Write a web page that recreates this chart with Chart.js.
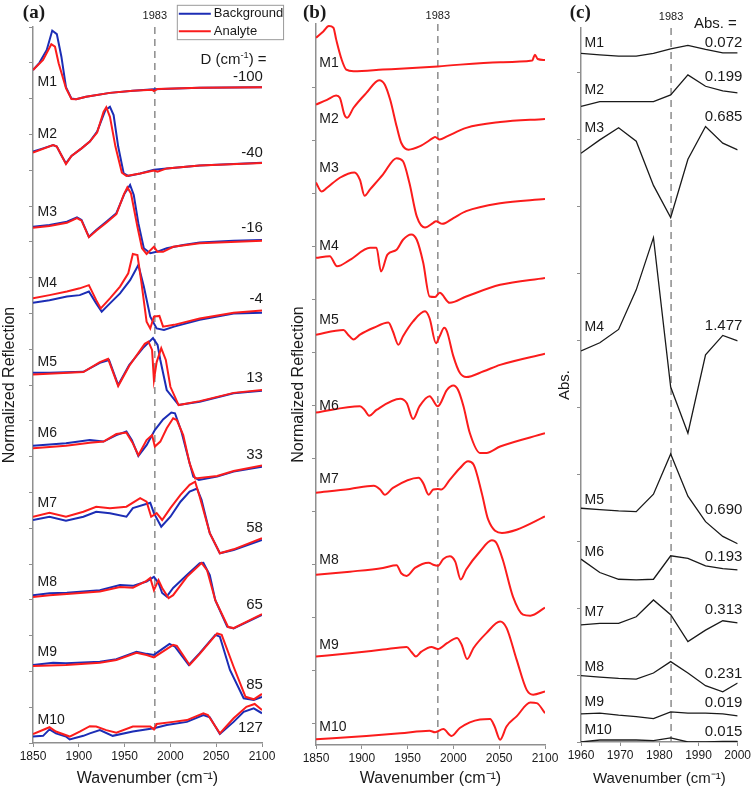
<!DOCTYPE html>
<html>
<head>
<meta charset="utf-8">
<script src="https://cdn.jsdelivr.net/npm/chart.js@4.4.1/dist/chart.umd.min.js"></script>
<style>
  body { margin: 0; background: #fff; }
  #wrap { position: relative; width: 753px; height: 792px; overflow: hidden; }
  canvas { position: absolute; top: 0; }
</style>
</head>
<body>
<div id="wrap">
  <canvas id="chartA" width="300" height="792" style="left:0px"></canvas>
  <canvas id="chartB" width="286" height="792" style="left:289px"></canvas>
  <canvas id="chartC" width="197" height="792" style="left:556px"></canvas>
</div>
<script>
// ---- panel (a): [wavenumber, normalized reflection + offset] ----
var aM1Bg = [[1850,18.80],[1857,19.00],[1865,19.36],[1871,19.90],[1876,19.80],[1881,19.17],[1886,18.32],[1892,18.00],[1897,17.98],[1908,18.05],[1934,18.16],[1959,18.22],[1982,18.26],[2032,18.30],[2100,18.32]];
var aM1An = [[1850,18.80],[1861,19.08],[1870,19.52],[1874,19.45],[1878,18.99],[1886,18.29],[1892,17.99],[1897,17.98],[1908,18.05],[1934,18.16],[1959,18.22],[1980,18.25],[1982,18.21],[1986,18.27],[2032,18.30],[2100,18.32]];
var aM2Bg = [[1850,16.52],[1861,16.61],[1872,16.70],[1876,16.66],[1881,16.42],[1886,16.19],[1892,16.40],[1903,16.61],[1912,16.80],[1920,17.08],[1929,17.68],[1934,17.77],[1938,17.54],[1943,16.66],[1949,15.91],[1954,15.84],[1967,15.91],[1982,16.01],[1996,16.05],[2032,16.13],[2100,16.21]];
var aM2An = [[1850,16.49],[1872,16.70],[1876,16.66],[1881,16.42],[1886,16.17],[1892,16.40],[1903,16.61],[1912,16.80],[1920,17.05],[1927,17.63],[1930,17.76],[1934,17.49],[1940,16.66],[1947,15.93],[1952,15.84],[1967,15.91],[1982,15.99],[1986,15.96],[1996,16.05],[2032,16.13],[2100,16.20]];
var aM3Bg = [[1850,14.42],[1868,14.47],[1887,14.56],[1898,14.68],[1903,14.61],[1911,14.14],[1919,14.33],[1930,14.56],[1941,14.80],[1950,15.35],[1956,15.59],[1960,15.31],[1965,14.52],[1971,13.82],[1978,13.68],[1985,13.72],[1996,13.82],[2014,13.91],[2032,13.98],[2069,14.03],[2100,14.05]];
var aM3An = [[1850,14.39],[1868,14.44],[1887,14.53],[1898,14.66],[1903,14.59],[1911,14.13],[1919,14.31],[1930,14.53],[1941,14.77],[1949,15.31],[1953,15.52],[1957,15.35],[1964,14.42],[1969,13.82],[1974,13.66],[1982,13.86],[1986,13.72],[1992,13.72],[2003,13.86],[2032,13.96],[2100,14.03]];
var aM4Bg = [[1850,12.30],[1868,12.37],[1887,12.47],[1901,12.51],[1911,12.61],[1919,12.28],[1925,12.05],[1934,12.28],[1945,12.56],[1956,12.93],[1965,13.35],[1971,12.75],[1978,11.91],[1985,11.58],[1993,11.54],[2004,11.63],[2032,11.82],[2069,12.00],[2100,12.02]];
var aM4An = [[1850,12.42],[1868,12.51],[1887,12.61],[1901,12.70],[1911,12.79],[1919,12.37],[1924,12.14],[1934,12.42],[1945,12.75],[1954,13.12],[1959,13.66],[1964,13.63],[1968,12.93],[1974,11.77],[1978,11.58],[1982,11.91],[1988,11.93],[1992,11.63],[2004,11.68],[2032,11.86],[2069,12.02],[2100,12.08]];
var aM5Bg = [[1850,10.34],[1868,10.34],[1905,10.37],[1923,10.62],[1933,10.70],[1943,10.00],[1955,10.56],[1970,11.03],[1981,11.31],[1986,11.12],[1989,10.70],[1996,9.86],[2009,9.44],[2032,9.53],[2069,9.77],[2100,9.84]];
var aM5An = [[1850,10.29],[1905,10.36],[1923,10.64],[1932,10.73],[1943,9.97],[1955,10.53],[1972,11.15],[1976,11.21],[1980,10.98],[1982,10.14],[1985,10.64],[1990,11.03],[1995,10.70],[2000,9.95],[2009,9.44],[2032,9.55],[2069,9.78],[2100,9.86]];
var aM6Bg = [[1850,8.30],[1886,8.37],[1912,8.46],[1927,8.42],[1941,8.60],[1952,8.70],[1958,8.46],[1965,8.02],[1974,8.32],[1983,8.74],[1992,9.04],[2001,9.23],[2005,9.21],[2012,8.70],[2020,7.91],[2025,7.44],[2031,7.35],[2051,7.44],[2069,7.58],[2100,7.72]];
var aM6An = [[1850,8.23],[1886,8.30],[1912,8.39],[1927,8.42],[1941,8.63],[1952,8.67],[1959,8.37],[1965,8.04],[1974,8.46],[1980,8.60],[1983,8.28],[1989,8.42],[1996,8.79],[2003,9.07],[2007,9.02],[2014,8.60],[2021,7.81],[2027,7.39],[2051,7.46],[2069,7.60],[2100,7.75]];
var aM7Bg = [[1850,6.23],[1868,6.32],[1886,6.21],[1905,6.32],[1919,6.46],[1934,6.42],[1952,6.32],[1959,6.56],[1978,6.71],[1982,6.42],[1990,6.04],[2000,6.32],[2011,6.74],[2021,7.02],[2029,7.11],[2034,6.79],[2043,5.86],[2054,5.30],[2069,5.39],[2100,5.67]];
var aM7An = [[1850,6.32],[1868,6.43],[1886,6.32],[1905,6.46],[1919,6.60],[1934,6.56],[1952,6.60],[1967,6.84],[1974,6.74],[1979,6.32],[1985,6.42],[1991,6.23],[2000,6.56],[2011,6.93],[2021,7.21],[2027,7.30],[2032,6.88],[2043,5.86],[2054,5.30],[2069,5.41],[2100,5.72]];
var aM8Bg = [[1850,4.13],[1868,4.18],[1887,4.20],[1923,4.27],[1945,4.41],[1959,4.39],[1974,4.51],[1982,4.64],[1987,4.47],[1991,4.19],[1996,4.09],[2003,4.33],[2018,4.69],[2032,5.02],[2036,5.03],[2043,4.69],[2049,3.99],[2062,3.25],[2069,3.20],[2100,3.58]];
var aM8An = [[1850,4.08],[1868,4.13],[1887,4.16],[1923,4.23],[1945,4.36],[1959,4.34],[1974,4.53],[1978,4.61],[1982,4.27],[1987,4.55],[1991,4.33],[1998,4.05],[2003,4.13],[2018,4.64],[2034,5.03],[2040,4.83],[2049,3.99],[2063,3.24],[2069,3.21],[2100,3.60]];
var aM9Bg = [[1850,2.18],[1872,2.24],[1886,2.23],[1923,2.27],[1941,2.34],[1963,2.55],[1974,2.49],[1982,2.46],[1999,2.77],[2005,2.69],[2020,2.18],[2032,2.51],[2049,3.02],[2054,2.97],[2065,2.04],[2080,1.25],[2091,1.20],[2100,1.29]];
var aM9An = [[1850,2.15],[1886,2.18],[1923,2.24],[1941,2.32],[1963,2.52],[1974,2.46],[1982,2.39],[2003,2.74],[2007,2.71],[2021,2.18],[2032,2.49],[2051,3.06],[2056,3.02],[2069,2.13],[2082,1.29],[2091,1.22],[2100,1.37]];
var aM10Bg = [[1850,0.18],[1861,0.20],[1868,0.38],[1875,0.27],[1886,0.18],[1890,0.10],[1905,0.20],[1912,0.27],[1923,0.36],[1937,0.20],[1959,0.32],[1982,0.41],[1996,0.50],[2018,0.59],[2036,0.78],[2043,0.72],[2054,0.25],[2069,0.59],[2080,0.87],[2091,0.97],[2100,0.83]];
var aM10An = [[1850,0.25],[1868,0.44],[1875,0.32],[1890,0.18],[1901,0.32],[1912,0.47],[1919,0.46],[1930,0.36],[1941,0.29],[1959,0.46],[1978,0.46],[1982,0.38],[1985,0.53],[2003,0.59],[2018,0.64],[2036,0.83],[2041,0.78],[2054,0.27],[2069,0.69],[2083,1.01],[2092,1.09],[2100,0.92]];

// ---- panel (b): analyte only ----
var bM1 = [[1850,12.94],[1858,13.06],[1864,13.16],[1869,13.13],[1872,12.91],[1878,12.53],[1883,12.34],[1891,12.31],[1923,12.34],[1983,12.40],[2051,12.48],[2086,12.51],[2089,12.62],[2092,12.54],[2100,12.52]];
var bM2 = [[1850,11.68],[1862,11.77],[1872,11.85],[1876,11.81],[1881,11.49],[1884,11.43],[1891,11.62],[1905,11.90],[1919,12.14],[1925,12.06],[1931,11.77],[1938,11.27],[1943,10.96],[1951,10.83],[1963,10.89],[1978,11.05],[1980,11.07],[1985,11.02],[1993,11.08],[2014,11.24],[2051,11.35],[2100,11.41]];
var bM3 = [[1850,10.21],[1856,10.04],[1862,10.11],[1876,10.30],[1892,10.40],[1898,10.26],[1903,9.96],[1909,10.08],[1923,10.36],[1938,10.67],[1945,10.61],[1952,10.20],[1960,9.57],[1969,9.36],[1978,9.45],[1981,9.48],[1988,9.43],[2000,9.54],[2014,9.67],[2051,9.82],[2100,9.90]];
var bM4 = [[1850,8.79],[1865,8.82],[1873,8.63],[1887,8.75],[1909,8.98],[1916,8.98],[1921,8.53],[1928,8.85],[1938,8.94],[1945,9.13],[1954,9.23],[1960,9.13],[1967,8.70],[1974,8.06],[1980,8.05],[1985,8.13],[1996,7.94],[2014,8.06],[2051,8.28],[2100,8.41]];
var bM5 = [[1850,7.34],[1880,7.43],[1885,7.34],[1891,7.25],[1898,7.34],[1913,7.47],[1929,7.57],[1934,7.40],[1940,7.15],[1945,7.31],[1956,7.59],[1969,7.78],[1974,7.65],[1981,7.18],[1985,7.31],[1990,7.47],[1993,7.40],[2000,6.93],[2007,6.62],[2014,6.54],[2033,6.65],[2051,6.77],[2100,6.98]];
var bM6 = [[1850,5.87],[1898,5.99],[1903,5.92],[1908,5.81],[1916,5.92],[1942,6.13],[1949,6.05],[1956,5.75],[1963,5.99],[1974,6.18],[1983,5.99],[1993,6.30],[2000,6.38],[2005,6.30],[2011,5.99],[2018,5.48],[2029,5.11],[2036,5.11],[2051,5.23],[2100,5.48]];
var bM7 = [[1850,4.36],[1887,4.43],[1913,4.49],[1920,4.42],[1925,4.32],[1934,4.45],[1962,4.64],[1967,4.54],[1973,4.32],[1978,4.42],[1983,4.43],[1987,4.42],[1996,4.60],[2007,4.82],[2016,4.95],[2022,4.89],[2031,4.35],[2038,3.85],[2053,3.60],[2069,3.66],[2100,3.91]];
var bM8 = [[1850,2.81],[1887,2.87],[1923,2.94],[1938,2.99],[1943,2.84],[1949,2.79],[1958,2.94],[1973,3.04],[1978,3.00],[1983,2.98],[1989,3.11],[1996,3.16],[2002,3.06],[2008,2.72],[2014,2.91],[2029,3.25],[2042,3.46],[2047,3.41],[2054,3.09],[2065,2.40],[2076,2.06],[2084,2.04],[2100,2.19]];
var bM9 = [[1850,1.27],[1887,1.33],[1923,1.40],[1949,1.45],[1954,1.36],[1959,1.27],[1965,1.36],[1976,1.45],[1983,1.41],[1993,1.52],[2004,1.62],[2009,1.49],[2015,1.22],[2022,1.43],[2036,1.71],[2051,1.93],[2058,1.81],[2069,1.21],[2080,0.64],[2087,0.55],[2100,0.61]];
var bM10 = [[1850,-0.29],[1905,-0.23],[1942,-0.18],[1974,-0.13],[1980,-0.16],[1989,-0.10],[1998,-0.23],[2007,-0.08],[2029,0.08],[2040,0.09],[2045,-0.05],[2051,-0.30],[2058,-0.05],[2069,0.14],[2084,0.40],[2091,0.39],[2100,0.20]];

// ---- panel (c): difference spectra, common wavenumber grid ----
var cWn = [1960, 1964.8, 1969.6, 1974.1, 1978.5, 1982.9, 1987.3, 1991.8, 1996.2, 2000];
var cM1 = [10.28,10.26,10.24,10.24,10.28,10.35,10.40,10.34,10.29,10.29];
var cM2 = [9.49,9.56,9.56,9.56,9.56,9.66,9.96,9.79,9.72,9.69];
var cM3 = [8.79,8.99,9.17,8.97,8.31,7.83,8.70,9.19,8.94,8.84];
var cM4 = [5.84,5.96,6.16,6.75,7.53,5.30,4.61,5.78,6.07,5.99];
var cM5 = [3.49,3.47,3.45,3.44,3.70,4.30,3.67,3.29,3.07,2.96];
var cM6 = [2.73,2.53,2.43,2.42,2.43,2.78,2.74,2.63,2.59,2.57];
var cM7 = [1.75,1.77,1.77,1.87,2.12,1.90,1.50,1.67,1.81,1.78];
var cM8 = [0.99,0.97,0.95,0.94,1.03,1.20,1.03,0.84,0.75,0.88];
var cM9 = [0.42,0.43,0.40,0.38,0.35,0.45,0.43,0.43,0.42,0.39];
var cM10 = [0.00,0.03,0.03,0.03,0.02,0.06,0.00,0.00,0.01,0.01];

var sampleNames = ['M1','M2','M3','M4','M5','M6','M7','M8','M9','M10'];
var shiftD = ['-100','-40','-16','-4','13','33','58','65','85','127'];
var absValues = ['0.072','0.199','0.685','1.477','0.690','0.193','0.313','0.231','0.019','0.015'];
var markWn = 1983;

var BLUE = '#1c2db5', RED = '#fb1c1c', BLACK = '#1a1a1a', AXIS = '#8f8f8f';
var SANS = '"Liberation Sans", Arial, sans-serif';

// text with optional superscript pieces
function drawRich(ctx, parts, x, y, align, size) {
  var w = 0;
  parts.forEach(function (p) {
    ctx.font = (p.sup ? size * 0.62 : size) + 'px ' + SANS;
    p.w = ctx.measureText(p.t).width;
    w += p.w;
  });
  var cx = align === 'right' ? x - w : (align === 'center' ? x - w / 2 : x);
  ctx.textBaseline = 'middle';
  ctx.textAlign = 'left';
  parts.forEach(function (p) {
    ctx.font = (p.sup ? size * 0.62 : size) + 'px ' + SANS;
    ctx.fillText(p.t, cx, p.sup ? y - size * 0.33 : y);
    cx += p.w;
  });
}

var notesPlugin = {
  id: 'notes',
  beforeDatasetsDraw: function (chart, args, opts) {
    if (opts.mark == null) return;
    var ctx = chart.ctx, area = chart.chartArea;
    var x = chart.scales.x.getPixelForValue(opts.mark);
    ctx.save();
    ctx.strokeStyle = '#8c8c8c';
    ctx.lineWidth = 1.5;
    ctx.setLineDash([7, 5]);
    ctx.beginPath();
    ctx.moveTo(x, area.top);
    ctx.lineTo(x, area.bottom);
    ctx.stroke();
    ctx.restore();
  },
  afterDraw: function (chart, args, opts) {
    var ctx = chart.ctx, sx = chart.scales.x, sy = chart.scales.y;
    ctx.save();
    ctx.fillStyle = BLACK;
    (opts.texts || []).forEach(function (n) {
      var px = sx.getPixelForValue(n.x), py = sy.getPixelForValue(n.y);
      if (n.serif) {
        ctx.font = 'bold ' + n.size + 'px "Liberation Serif", "Times New Roman", serif';
        ctx.textAlign = 'center';
        ctx.textBaseline = 'middle';
        ctx.fillText(n.t, px, py);
      } else {
        drawRich(ctx, n.parts || [{ t: n.t }], px, py, n.align || 'left', n.size || 14);
      }
    });
    var lg = opts.legend;
    if (lg) {
      var x0 = sx.getPixelForValue(lg.x0), x1 = sx.getPixelForValue(lg.x1);
      var y0 = sy.getPixelForValue(lg.y0), y1 = sy.getPixelForValue(lg.y1);
      ctx.fillStyle = '#fff';
      ctx.fillRect(x0, y0, x1 - x0, y1 - y0);
      ctx.strokeStyle = '#9a9a9a';
      ctx.lineWidth = 1;
      ctx.strokeRect(x0 + 0.5, y0 + 0.5, x1 - x0, y1 - y0);
      lg.items.forEach(function (it, i) {
        var yy = y0 + 9 + i * 17.5;
        ctx.strokeStyle = it.color;
        ctx.lineWidth = 2;
        ctx.beginPath();
        ctx.moveTo(x0 + 2, yy);
        ctx.lineTo(x0 + 34, yy);
        ctx.stroke();
        ctx.fillStyle = BLACK;
        drawRich(ctx, [{ t: it.label }], x0 + 37, yy, 'left', 13);
      });
    }
    ctx.restore();
  }
};
Chart.register(notesPlugin);

function pts(pairs) {
  return pairs.map(function (p) { return { x: p[0], y: p[1] }; });
}

function lineSet(data, color, width, order, smooth) {
  return {
    data: data, borderColor: color, borderWidth: width, pointRadius: 0,
    tension: smooth ? 0.4 : 0, cubicInterpolationMode: smooth ? 'monotone' : 'default',
    fill: false, order: order
  };
}

function makeChart(id, cfg) {
  new Chart(document.getElementById(id), {
    type: 'line',
    data: { datasets: cfg.datasets },
    options: {
      responsive: false,
      animation: false,
      events: [],
      layout: { padding: { top: cfg.padTop, right: cfg.padRight, left: 0, bottom: 0 } },
      plugins: { legend: { display: false }, tooltip: { enabled: false }, notes: cfg.notes },
      scales: {
        x: {
          type: 'linear', min: cfg.xmin, max: cfg.xmax,
          ticks: {
            stepSize: cfg.xstep, maxRotation: 0, autoSkip: false, padding: 2,
            color: BLACK, font: { family: SANS, size: cfg.tickSize },
            callback: function (v) { return String(v); }
          },
          grid: { drawOnChartArea: false, drawTicks: true, tickLength: 4, color: AXIS },
          border: { color: AXIS, width: 1.5 },
          title: {
            display: true, text: 'Wavenumber (cm\u207B\u00B9)', color: BLACK,
            font: { family: SANS, size: cfg.titleSize }, padding: { top: 0, bottom: 4 }
          },
          afterFit: function (s) { s.height = cfg.xHeight; }
        },
        y: {
          type: 'linear', min: cfg.ymin, max: cfg.ymax,
          ticks: { display: false, stepSize: 1 },
          grid: { drawOnChartArea: false, drawTicks: true, tickLength: 4, color: AXIS },
          border: { color: AXIS, width: 1.5 },
          title: {
            display: true, text: cfg.ytitle, color: BLACK,
            font: { family: SANS, size: cfg.ytitleSize }, padding: 0
          },
          afterBuildTicks: function (s) {
            s.ticks = s.ticks.filter(function (t) { return Number.isInteger(t.value); });
          },
          afterFit: function (s) { s.width = cfg.yWidth; }
        }
      }
    }
  });
}

// ---------- panel (a) ----------
var aBg = [aM1Bg, aM2Bg, aM3Bg, aM4Bg, aM5Bg, aM6Bg, aM7Bg, aM8Bg, aM9Bg, aM10Bg];
var aAn = [aM1An, aM2An, aM3An, aM4An, aM5An, aM6An, aM7An, aM8An, aM9An, aM10An];
var aSets = [];
aBg.forEach(function (s) { aSets.push(lineSet(pts(s), BLUE, 2, 2, false)); });
aAn.forEach(function (s) { aSets.push(lineSet(pts(s), RED, 2, 1, false)); });

var aNameY = [18.46, 17.01, 14.83, 12.85, 10.64, 8.66, 6.70, 4.50, 2.54, 0.64];
var aDY = [18.60, 16.48, 14.39, 12.42, 10.20, 8.04, 6.01, 3.85, 1.62, 0.42];
var aTexts = [
  { t: '(a)', x: 1851, y: 20.38, serif: true, size: 19 },
  { t: '1983', x: markWn, y: 20.30, align: 'center', size: 11 },
  { parts: [{ t: 'D (cm' }, { t: '-1', sup: true }, { t: ') =' }], x: 2105, y: 19.08, align: 'right', size: 15 }
];
sampleNames.forEach(function (n, i) {
  aTexts.push({ t: n, x: 1855, y: aNameY[i], size: 14 });
  aTexts.push({ t: shiftD[i], x: 2101, y: aDY[i], align: 'right', size: 15 });
});

makeChart('chartA', {
  datasets: aSets, xmin: 1850, xmax: 2100, xstep: 50, ymin: 0, ymax: 20,
  padTop: 27, padRight: 38, xHeight: 49, yWidth: 33, tickSize: 12, titleSize: 16,
  ytitle: 'Normalized Reflection', ytitleSize: 16,
  notes: {
    mark: markWn, texts: aTexts,
    legend: { x0: 2007, x1: 2123, y0: 20.62, y1: 19.66,
      items: [{ label: 'Background', color: BLUE }, { label: 'Analyte', color: RED }] }
  }
});

// ---------- panel (b) ----------
var bAll = [bM1, bM2, bM3, bM4, bM5, bM6, bM7, bM8, bM9, bM10];
var bSets = bAll.map(function (s) { return lineSet(pts(s), RED, 2, 1, true); });
var bNameY = [12.47, 11.41, 10.48, 9.01, 7.62, 5.99, 4.62, 3.08, 1.49, -0.06];
var bTexts = [
  { t: '(b)', x: 1848.5, y: 13.41, serif: true, size: 19 },
  { t: '1983', x: markWn, y: 13.36, align: 'center', size: 11 }
];
sampleNames.forEach(function (n, i) {
  bTexts.push({ t: n, x: 1853.6, y: bNameY[i], size: 14 });
});

makeChart('chartB', {
  datasets: bSets, xmin: 1850, xmax: 2100, xstep: 50, ymin: -0.4, ymax: 13.2,
  padTop: 24, padRight: 30, xHeight: 47, yWidth: 27, tickSize: 12, titleSize: 16,
  ytitle: 'Normalized Reflection', ytitleSize: 16,
  notes: { mark: markWn, texts: bTexts }
});

// ---------- panel (c) ----------
var cAll = [cM1, cM2, cM3, cM4, cM5, cM6, cM7, cM8, cM9, cM10];
var cSets = cAll.map(function (vals) {
  return lineSet(vals.map(function (v, i) { return { x: cWn[i], y: v }; }), BLACK, 1.3, 1, false);
});
var cNameY = [10.44, 9.73, 9.16, 6.20, 3.61, 2.84, 1.94, 1.12, 0.60, 0.18];
var cAbsY = [10.44, 9.93, 9.33, 6.22, 3.47, 2.77, 1.97, 1.01, 0.58, 0.15];
var cTexts = [
  { t: '(c)', x: 1959.8, y: 10.88, serif: true, size: 19 },
  { t: '1983', x: markWn, y: 10.83, align: 'center', size: 11 },
  { t: 'Abs. =', x: 1999.8, y: 10.72, align: 'right', size: 15 }
];
sampleNames.forEach(function (n, i) {
  cTexts.push({ t: n, x: 1960.9, y: cNameY[i], size: 14 });
  cTexts.push({ t: absValues[i], x: 2001.2, y: cAbsY[i], align: 'right', size: 15 });
});

makeChart('chartC', {
  datasets: cSets, xmin: 1960, xmax: 2000, xstep: 10, ymin: 0, ymax: 10.66,
  padTop: 28, padRight: 15, xHeight: 50, yWidth: 25, tickSize: 12, titleSize: 15,
  ytitle: 'Abs.', ytitleSize: 15,
  notes: { mark: markWn, texts: cTexts }
});
</script>
</body>
</html>
